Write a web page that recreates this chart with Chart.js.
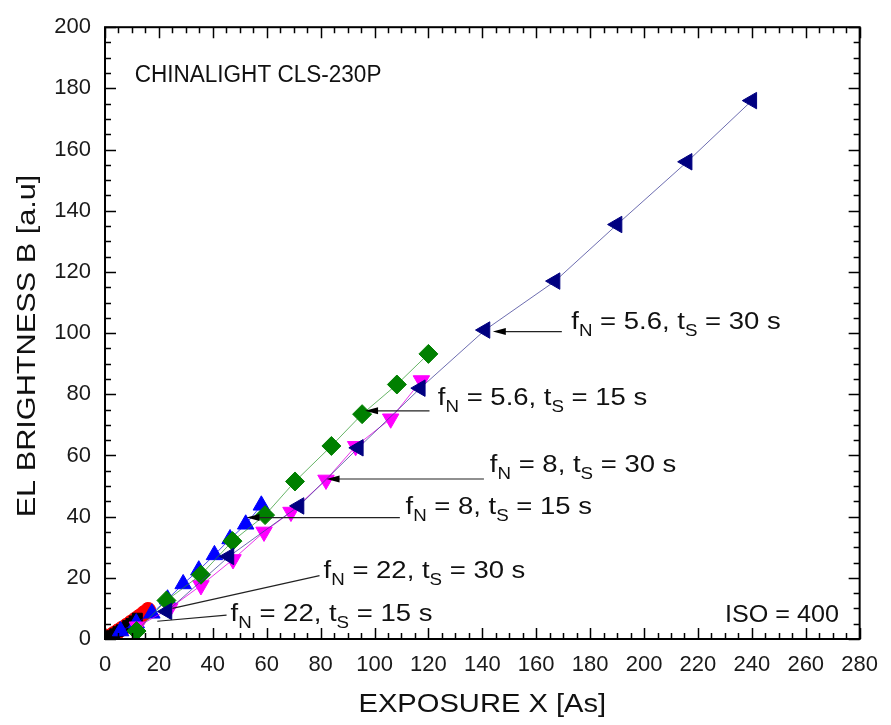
<!DOCTYPE html>
<html>
<head>
<meta charset="utf-8">
<script src="https://cdn.jsdelivr.net/npm/chart.js@4/dist/chart.umd.min.js"></script>
<style>
  html, body { margin: 0; padding: 0; background: #fff; }
  #wrap { width: 891px; height: 725px; }
</style>
</head>
<body>
<div id="wrap"><canvas id="chart" width="891" height="725"></canvas></div>
<script>
// exposure X [As] and brightness B [a.u] for each setting
const n56t30X = [23, 46, 72, 94, 117, 141, 167, 190, 216, 240];
const n56t30Y = [9, 27, 43.5, 62.5, 82, 101, 117, 135.5, 156, 176];
const n56t15X = [11.7, 22.8, 35.6, 47.3, 59.4, 70.5, 84, 95.4, 108.3, 120];
const n56t15Y = [2.6, 12.6, 21, 32, 40.5, 51.5, 63.1, 73.5, 83.2, 93.2];
const n8t30X = [12, 24, 35.6, 47.5, 59, 69, 82, 93, 106, 117.4];
const n8t30Y = [4, 10, 17.5, 26, 35, 41.5, 52, 63, 72, 84.5];
const n8t15X = [5.8, 11.6, 17.4, 23.2, 29, 34.8, 40.6, 46.4, 52.2, 58];
const n8t15Y = [2.6, 5.2, 8.4, 13, 18, 22.5, 27.5, 32.7, 37.5, 43.7];
const n22t30X = [1.6, 3.2, 4.8, 6.4, 8, 9.6, 11.2, 12.8, 14.4, 16];
const n22t30Y = [0.8, 1.6, 2.5, 3.4, 4.3, 5.3, 6.3, 7.3, 8.4, 9.5];
const n22t15X = [1.2, 2.4, 3.6, 4.8, 6, 7.2, 8.4, 9.6, 10.8, 12];
const n22t15Y = [0.5, 1.1, 1.7, 2.4, 3, 3.7, 4.4, 5.1, 5.9, 6.8];

const xTicks = [0, 20, 40, 60, 80, 100, 120, 140, 160, 180, 200, 220, 240, 260, 280];
const yTicks = [0, 20, 40, 60, 80, 100, 120, 140, 160, 180, 200];

const FONT = '"Liberation Sans", Arial, sans-serif';

function pts(xs, ys) { return xs.map((x, i) => ({ x: x, y: ys[i] })); }

function series(xs, ys, color, line, style, rot, r) {
    return {
        data: pts(xs, ys),
        borderColor: line,
        backgroundColor: color,
        pointBackgroundColor: color,
        pointBorderColor: color,
        pointBorderWidth: 1,
        pointStyle: style,
        pointRotation: rot,
        pointRadius: r,
        borderWidth: 1,
        showLine: true,
        tension: 0
    };
}

// annotation labels: [text pieces (normal, sub, normal, sub, normal)], text anchor, line from, line to, arrow head
const notes = [
    { t: ['f', 'N', ' = 5.6, t', 'S', ' = 30 s'], at: [173, 101.5], from: [169.5, 100.5], to: [143.9, 100.5], head: true },
    { t: ['f', 'N', ' = 5.6, t', 'S', ' = 15 s'], at: [123.5, 76.6], from: [120.4, 74.6], to: [96.5, 74.6], head: true },
    { t: ['f', 'N', ' = 8, t', 'S', ' = 30 s'], at: [142.8, 54.6], from: [140.6, 52.3], to: [82.2, 52.3], head: true },
    { t: ['f', 'N', ' = 8, t', 'S', ' = 15 s'], at: [111.5, 40.7], from: [109.4, 39.7], to: [52.5, 39.7], head: true },
    { t: ['f', 'N', ' = 22, t', 'S', ' = 30 s'], at: [81.1, 20], from: [79.6, 20.7], to: [25, 10], head: false },
    { t: ['f', 'N', ' = 22, t', 'S', ' = 15 s'], at: [46.6, 5.8], from: [45.1, 7.8], to: [19.4, 5.8], head: false }
];

function drawPieces(ctx, x, y, pieces, size, sub, stretch) {
    ctx.save();
    ctx.translate(x, y);
    ctx.scale(stretch, 1);
    ctx.textAlign = 'left';
    ctx.textBaseline = 'alphabetic';
    let cx = 0;
    pieces.forEach((p, i) => {
        const isSub = i % 2 === 1;
        ctx.font = (isSub ? sub : size) + 'px ' + FONT;
        ctx.fillText(p, cx, isSub ? 7 : 0);
        cx += ctx.measureText(p).width;
    });
    ctx.restore();
}

const decor = {
    id: 'decor',
    afterDatasetsDraw(chart) {
        const ctx = chart.ctx;
        const a = chart.chartArea;
        const xs = chart.scales.x, ys = chart.scales.y;
        ctx.save();
        ctx.strokeStyle = '#000';
        ctx.fillStyle = '#000';

        // inward ticks on all four sides
        ctx.lineWidth = 1.5;
        ctx.beginPath();
        for (let v = 0; v <= 280; v += 5) {
            const px = Math.round(xs.getPixelForValue(v)) + 0.5;
            const len = v % 20 === 0 ? 11 : 6;
            ctx.moveTo(px, a.bottom); ctx.lineTo(px, a.bottom - len);
            ctx.moveTo(px, a.top); ctx.lineTo(px, a.top + len);
        }
        for (let v = 0; v <= 200; v += 5) {
            const py = Math.round(ys.getPixelForValue(v)) + 0.5;
            const len = v % 20 === 0 ? 11 : 6;
            ctx.moveTo(a.left, py); ctx.lineTo(a.left + len, py);
            ctx.moveTo(a.right, py); ctx.lineTo(a.right - len, py);
        }
        ctx.stroke();

        // frame
        ctx.lineWidth = 2;
        ctx.strokeRect(a.left, a.top, a.right - a.left, a.bottom - a.top);

        // annotation lines and arrows
        ctx.strokeStyle = '#222';
        ctx.lineWidth = 1.2;
        notes.forEach(n => {
            const x1 = xs.getPixelForValue(n.from[0]), y1 = ys.getPixelForValue(n.from[1]);
            const x2 = xs.getPixelForValue(n.to[0]), y2 = ys.getPixelForValue(n.to[1]);
            ctx.beginPath();
            ctx.moveTo(x1, y1);
            ctx.lineTo(n.head ? x2 + 10 : x2, y2);
            ctx.stroke();
            if (n.head) {
                ctx.beginPath();
                ctx.moveTo(x2, y2);
                ctx.lineTo(x2 + 13, y2 - 3.5);
                ctx.lineTo(x2 + 13, y2 + 3.5);
                ctx.closePath();
                ctx.fill();
            }
        });

        // annotation texts
        ctx.fillStyle = '#111';
        notes.forEach(n => {
            drawPieces(ctx, xs.getPixelForValue(n.at[0]), ys.getPixelForValue(n.at[1]), n.t, 23.5, 16, 1.17);
        });
        drawPieces(ctx, xs.getPixelForValue(11), ys.getPixelForValue(182.2), ['CHINALIGHT CLS-230P'], 23, 16, 0.98);
        ctx.font = '23.5px ' + FONT;
        ctx.save();
        ctx.translate(xs.getPixelForValue(272.3), ys.getPixelForValue(5.5));
        ctx.scale(1.07, 1);
        ctx.textAlign = 'right';
        ctx.fillText('ISO = 400', 0, 0);
        ctx.restore();

        // axis titles
        ctx.font = '26px ' + FONT;
        ctx.textAlign = 'center';
        ctx.textBaseline = 'middle';
        ctx.save();
        ctx.translate((a.left + a.right) / 2, 705);
        ctx.scale(1.12, 1);
        ctx.fillText('EXPOSURE X [As]', 0, 0);
        ctx.restore();
        ctx.save();
        ctx.translate(28, 346);
        ctx.rotate(-Math.PI / 2);
        ctx.scale(1.18, 1);
        ctx.fillText('EL BRIGHTNESS B [a.u]', 0, 0);
        ctx.restore();

        ctx.restore();
    }
};

// first dataset is painted on top
new Chart(document.getElementById('chart'), {
    type: 'scatter',
    data: {
        datasets: [
            series(n56t30X, n56t30Y, '#000080', 'rgba(60,60,150,0.75)', 'triangle', 270, 9.5),
            series(n56t15X, n56t15Y, '#008000', 'rgba(40,150,40,0.7)', 'rectRot', 0, 9.5),
            series(n8t30X, n8t30Y, '#ff00ff', 'rgba(230,0,230,0.8)', 'triangle', 180, 9.5),
            series(n8t15X, n8t15Y, '#0000ff', 'rgba(0,0,230,0.7)', 'triangle', 0, 9.5),
            series(n22t15X, n22t15Y, '#000000', 'rgba(0,0,0,0.7)', 'rect', 0, 7),
            series(n22t30X, n22t30Y, '#ff0000', 'rgba(230,0,0,0.7)', 'circle', 0, 7.5)
        ]
    },
    options: {
        responsive: false,
        animation: false,
        devicePixelRatio: 1,
        layout: { padding: { left: 0, right: 23, top: 19, bottom: 0 } },
        plugins: { legend: { display: false }, tooltip: { enabled: false } },
        scales: {
            x: {
                type: 'linear', min: 0, max: 280,
                afterFit: s => { s.height = 86; },
                afterBuildTicks: s => { s.ticks = xTicks.map(v => ({ value: v })); },
                grid: { display: false, drawTicks: false },
                border: { display: false },
                ticks: { padding: 13, color: '#1a1a1a', font: { family: FONT, size: 22 }, maxRotation: 0 }
            },
            y: {
                type: 'linear', min: 0, max: 200,
                afterFit: s => { s.width = 105; },
                afterBuildTicks: s => { s.ticks = yTicks.map(v => ({ value: v })); },
                grid: { display: false, drawTicks: false },
                border: { display: false },
                ticks: { padding: 14, color: '#1a1a1a', font: { family: FONT, size: 22 } }
            }
        }
    },
    plugins: [decor]
});
</script>
</body>
</html>
